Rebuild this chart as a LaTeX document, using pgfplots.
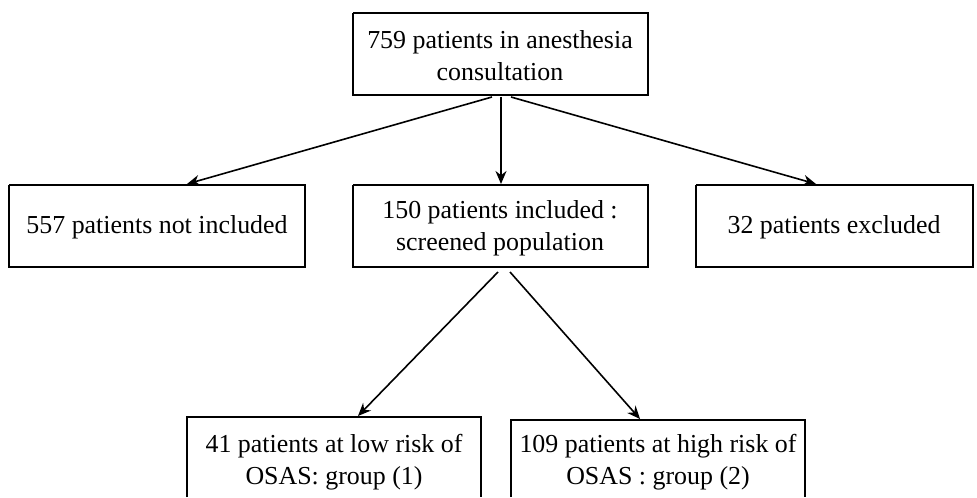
\documentclass[border=0pt]{standalone}
\usepackage{fontspec}
\setmainfont{Liberation Serif}
\usepackage{pgfplots}
\pgfplotsset{compat=1.18}
\usetikzlibrary{arrows.meta}
\begin{document}
\begin{tikzpicture}[x=1bp,y=1bp]
\begin{axis}[
  scale only axis, width=977bp, height=496bp,
  xmin=0, xmax=977, ymin=0, ymax=496, y dir=reverse,
  hide axis, clip=false,
  every axis plot/.append style={black},
]
% frame for the bounding box
\addplot[draw=none] coordinates {(0,0) (977,496)};
% boxes
\addplot[line width=2bp] coordinates {(353,13) (648,13) (648,95) (353,95) (353,13)};
\addplot[line width=2bp] coordinates {(9,185) (305,185) (305,267) (9,267) (9,185)};
\addplot[line width=2bp] coordinates {(353,185) (648,185) (648,267) (353,267) (353,185)};
\addplot[line width=2bp] coordinates {(696,185) (973,185) (973,267) (696,267) (696,185)};
\addplot[line width=2bp] coordinates {(187,497) (187,417) (481,417) (481,497)};
\addplot[line width=2bp] coordinates {(511,497) (511,420) (805,420) (805,497)};
% arrows
\addplot[line width=1.6bp, -{Stealth[length=13bp,width=11bp]}] coordinates {(492,97) (187,184)};
\addplot[line width=1.6bp, -{Stealth[length=13bp,width=11bp]}] coordinates {(501,97) (501,184)};
\addplot[line width=1.6bp, -{Stealth[length=13bp,width=11bp]}] coordinates {(511,97) (816,184)};
\addplot[line width=1.6bp, -{Stealth[length=13bp,width=11bp]}] coordinates {(498,272) (358,416)};
\addplot[line width=1.6bp, -{Stealth[length=13bp,width=11bp]}] coordinates {(510,272) (640,419)};
% texts
\node[align=center, inner sep=0pt, font=\fontsize{26}{32}\selectfont] at (axis cs:500,56) {759 patients in anesthesia\\consultation};
\node[align=center, inner sep=0pt, font=\fontsize{26}{32}\selectfont] at (axis cs:157,227) {557 patients not included};
\node[align=center, inner sep=0pt, font=\fontsize{26}{32}\selectfont] at (axis cs:500,228) {150 patients included :\\screened population};
\node[align=center, inner sep=0pt, font=\fontsize{26}{32}\selectfont] at (axis cs:834,227) {32 patients excluded};
\node[align=center, inner sep=0pt, font=\fontsize{26}{32}\selectfont] at (axis cs:334,462) {41 patients at low risk of\\OSAS: group (1)};
\node[align=center, inner sep=0pt, font=\fontsize{26}{32}\selectfont] at (axis cs:658,462) {109 patients at high risk of\\OSAS : group (2)};
\end{axis}
\end{tikzpicture}
\end{document}
